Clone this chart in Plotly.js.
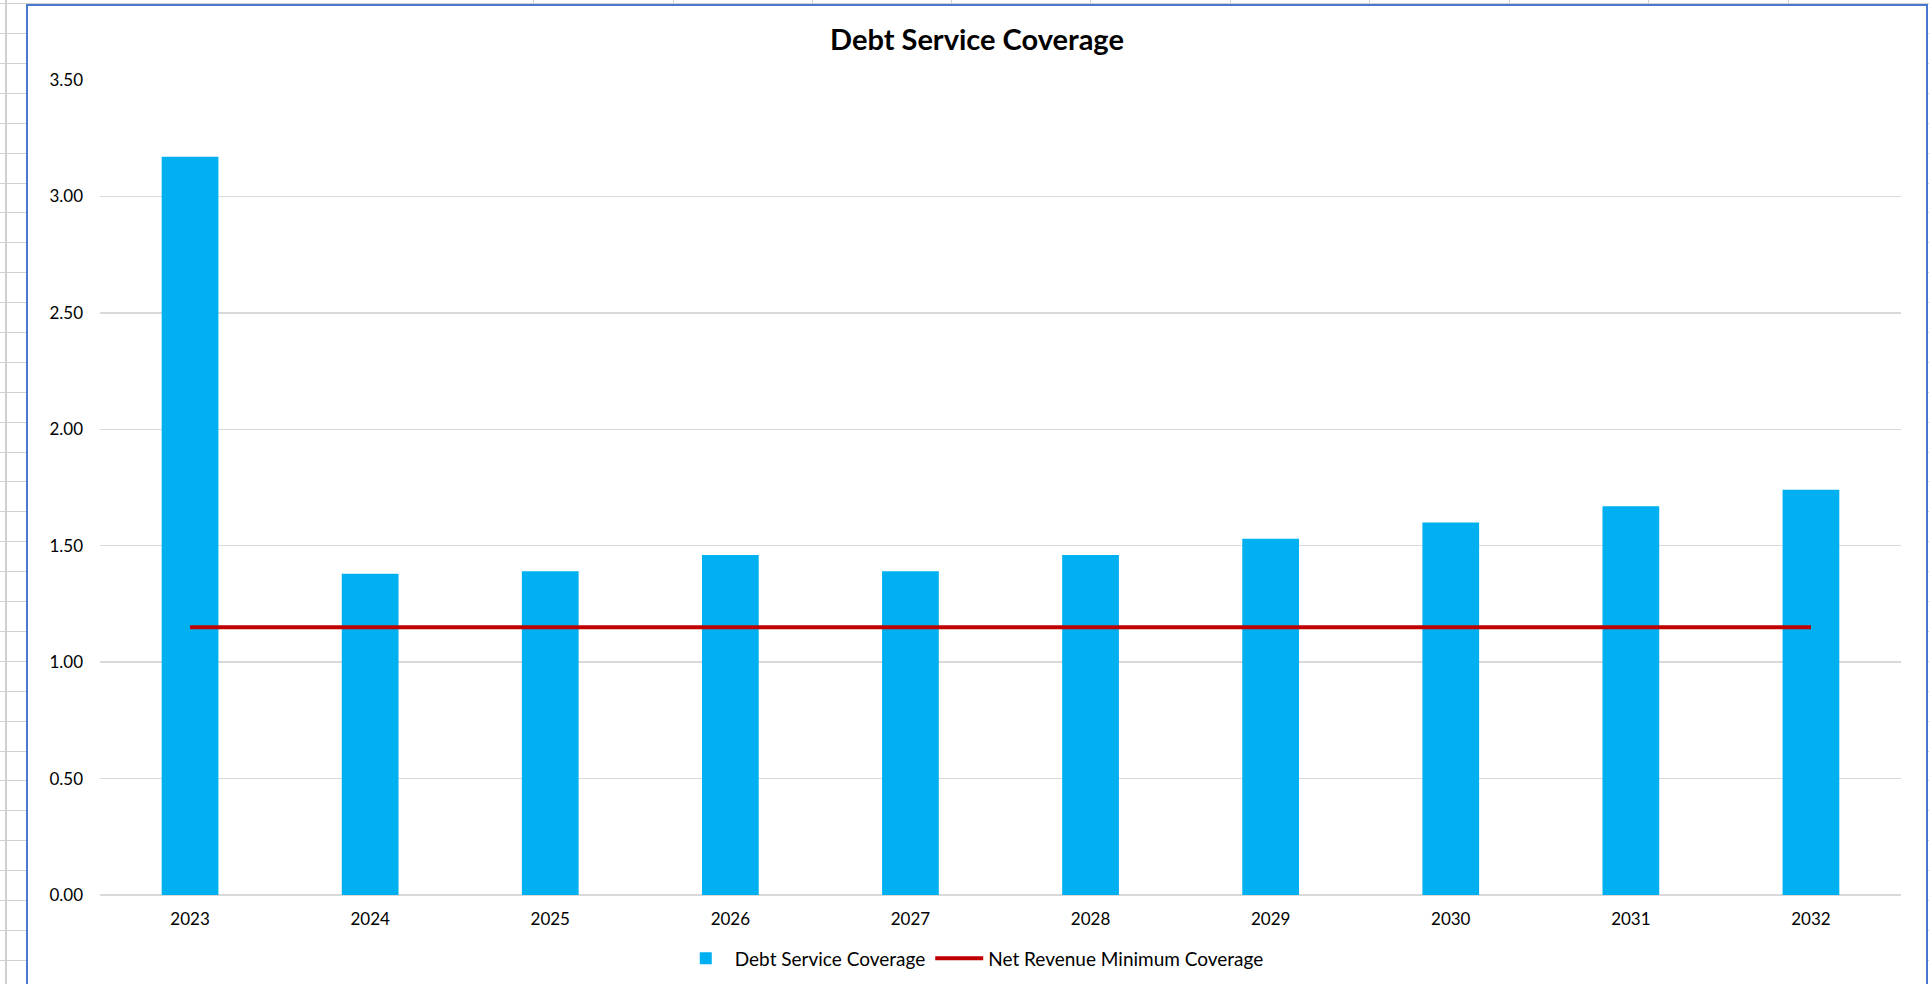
<!DOCTYPE html>
<html>
<head>
<meta charset="utf-8">
<script src="https://cdn.plot.ly/plotly-3.0.1.min.js"></script>
<style>
  html, body { margin: 0; padding: 0; width: 1929px; height: 984px; overflow: hidden; background: #ffffff; }
  #bg { position: absolute; left: 0; top: 0; width: 1929px; height: 984px; }
  .hl { position: absolute; left: 0; width: 1929px; height: 1px; background: #d0d0d0; }
  .vl { position: absolute; top: 0; width: 1px; height: 984px; background: #d0d0d0; }
  #frame { position: absolute; left: 26px; top: 4px; width: 1898px; height: 1000px; border: 2px solid #4a78cf; background: #ffffff; }
  #chart { width: 1898px; height: 1000px; }
</style>
</head>
<body>
<div id="bg"></div>
<div id="frame"><div id="chart"></div></div>
<script>
// ---- data ----
const years = ["2023", "2024", "2025", "2026", "2027", "2028", "2029", "2030", "2031", "2032"];
const debtServiceCoverage = [3.17, 1.38, 1.39, 1.46, 1.39, 1.46, 1.53, 1.60, 1.67, 1.74];
const minimumCoverage = [1.15, 1.15, 1.15, 1.15, 1.15, 1.15, 1.15, 1.15, 1.15, 1.15];
const yTickValues = [0, 0.5, 1.0, 1.5, 2.0, 2.5, 3.0, 3.5];
const yTickLabels = ["0.00", "0.50", "1.00", "1.50", "2.00", "2.50", "3.00", "3.50"];

// ---- spreadsheet background lines ----
const bg = document.getElementById('bg');
for (let y = 3.1; y < 984; y += 29.9) {
  const d = document.createElement('div'); d.className = 'hl'; d.style.top = Math.round(y) + 'px'; bg.appendChild(d);
}
[5, 533, 673, 812, 951, 1090, 1230, 1369, 1509, 1648, 1788].forEach(x => {
  const d = document.createElement('div'); d.className = 'vl'; d.style.left = x + 'px';
  if (x === 5) d.style.width = '2px';
  bg.appendChild(d);
});

const FONT = 'Lato, "Open Sans", sans-serif';

const traces = [
  {
    type: 'bar',
    name: 'Debt Service Coverage',
    x: years,
    y: debtServiceCoverage,
    marker: { color: '#00B0F0' },
    hoverinfo: 'x+y'
  },
  {
    type: 'scatter',
    mode: 'lines',
    name: 'Net Revenue Minimum Coverage',
    x: years,
    y: minimumCoverage,
    line: { color: '#C00000', width: 4 },
    hoverinfo: 'x+y'
  }
];

const layout = {
  width: 1898,
  height: 1000,
  margin: { l: 72, r: 25, t: 74, b: 111 },
  paper_bgcolor: '#ffffff',
  plot_bgcolor: '#ffffff',
  bargap: 0.685,
  title: {
    text: '<b>Debt Service Coverage</b>',
    font: { family: FONT, size: 29, color: '#000000' },
    x: 0.5, xanchor: 'center', xref: 'container',
    y: 0.966, yanchor: 'middle', yref: 'container'
  },
  xaxis: {
    type: 'category',
    tickfont: { family: FONT, size: 17, color: '#000000' },
    showgrid: false,
    showline: false,
    ticks: '',
    ticklabelstandoff: 12,
    fixedrange: true
  },
  yaxis: {
    range: [0, 3.5],
    tickvals: yTickValues,
    ticktext: yTickLabels,
    tickfont: { family: FONT, size: 17, color: '#000000' },
    showgrid: true,
    gridcolor: '#d9d9d9',
    gridwidth: 1.5,
    zeroline: true,
    zerolinecolor: '#d9d9d9',
    zerolinewidth: 1.5,
    showline: false,
    ticks: '',
    ticklabelstandoff: 16,
    fixedrange: true
  },
  showlegend: true,
  legend: {
    orientation: 'h',
    x: 0.4846, xanchor: 'center',
    y: -0.0777, yanchor: 'middle',
    font: { family: FONT, size: 19, color: '#000000' },
    itemwidth: 48,
    traceorder: 'normal'
  }
};

Plotly.newPlot('chart', traces, layout, { displayModeBar: false, staticPlot: true });
</script>
</body>
</html>
